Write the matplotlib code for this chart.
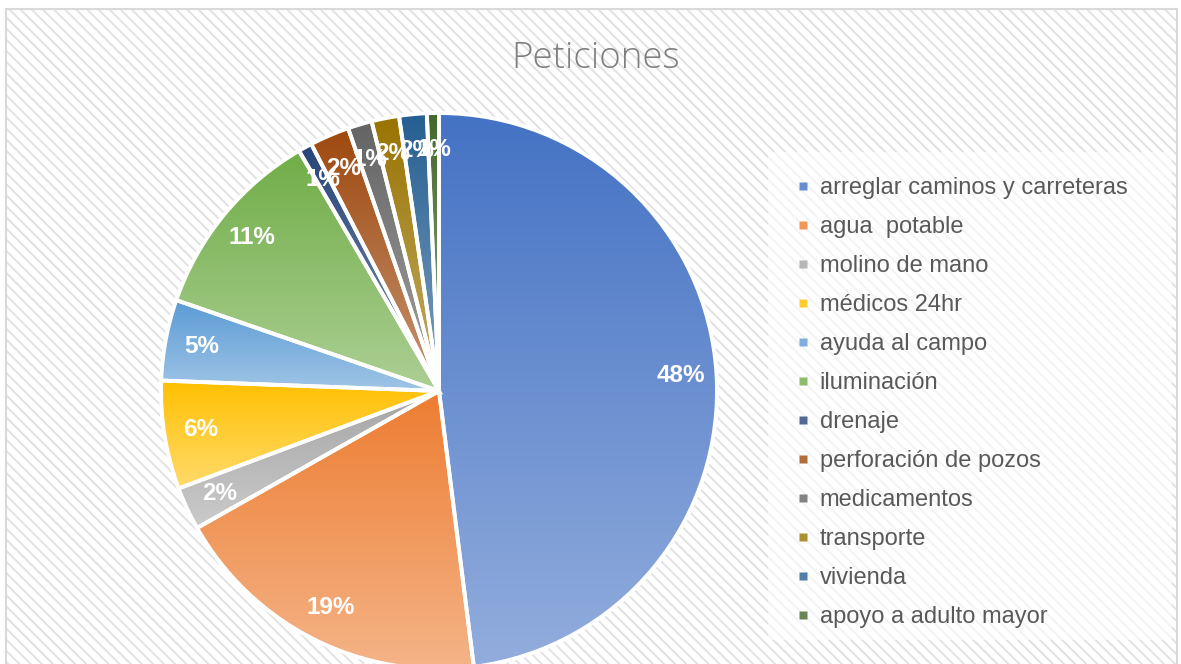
import numpy as np
import matplotlib
matplotlib.use("Agg")
import matplotlib.pyplot as plt
from matplotlib.patches import Rectangle
from matplotlib.lines import Line2D
from matplotlib.colors import to_rgb

# data (percent of requests)
categories = ["arreglar caminos y carreteras", "agua  potable", "molino de mano",
              "médicos 24hr", "ayuda al campo", "iluminación", "drenaje",
              "perforación de pozos", "medicamentos", "transporte", "vivienda",
              "apoyo a adulto mayor"]
values = [48.0, 18.8, 2.5, 6.3, 4.7, 11.3, 0.8, 2.3, 1.4, 1.6, 1.6, 0.7]
colors = ["#4472C4", "#ED7D31", "#A5A5A5", "#FFC000", "#5B9BD5", "#70AD47",
          "#264478", "#9E480E", "#636363", "#997300", "#255E91", "#43682B"]

W, H = 1181, 664
plt.rcParams["hatch.linewidth"] = 1.4
plt.rcParams["hatch.color"] = "#E2E2E2"

fig = plt.figure(figsize=(W / 100, H / 100), dpi=100)


def fx(px):
    return px / W


def fy(py):
    return 1 - py / H


def lighten(c, f):
    r, g, b = to_rgb(c)
    return (r + (1 - r) * f, g + (1 - g) * f, b + (1 - b) * f)


# hatched chart background with thin border
bg = Rectangle((fx(6), fy(672)), fx(1177) - fx(6), fy(9) - fy(672),
               transform=fig.transFigure, facecolor="white", edgecolor="#E2E2E2",
               hatch="\\\\\\", lw=0, zorder=-3)
fig.patches.append(bg)
border = Rectangle((fx(6), fy(672)), fx(1177) - fx(6), fy(9) - fy(672),
                   transform=fig.transFigure, facecolor="none", edgecolor="#D9D9D9",
                   lw=1.5, zorder=-2)
fig.patches.append(border)

# lighter panel behind legend
leg_bg = Rectangle((fx(768), fy(640)), fx(1172) - fx(768), fy(152) - fy(640),
                   transform=fig.transFigure, facecolor="white", alpha=0.6,
                   lw=0, zorder=-2)
fig.patches.append(leg_bg)

# pie axes
cx, cy, R, pad = 439, 391, 278, 1.03
ax = fig.add_axes([fx(cx - R * pad), fy(cy + R * pad), 2 * R * pad / W, 2 * R * pad / H])
ax.axis("off")

wedges, texts, autotexts = ax.pie(
    values, startangle=90, counterclock=False, radius=1,
    autopct="%.0f%%", pctdistance=0.87,
    wedgeprops=dict(edgecolor="white", linewidth=2.8),
    textprops=dict(color="white", fontsize=17.5, fontweight="bold",
                   family="Liberation Sans"))

grad = np.linspace(0, 1, 256)[:, None]
for w, c in zip(wedges, colors):
    top = np.array(to_rgb(c))
    bot = np.array(lighten(c, 0.42))
    img = top[None, None, :] * (1 - grad[:, :, None]) + bot[None, None, :] * grad[:, :, None]
    bb = w.get_path().get_extents()
    im = ax.imshow(img, extent=[bb.x0, bb.x1, bb.y0, bb.y1], origin="upper",
                   aspect="auto", interpolation="bilinear", zorder=1)
    im.set_clip_path(w)
    w.set_facecolor("none")
    w.set_zorder(2)
for t in autotexts:
    t.set_zorder(5)

ax.set_xlim(-pad, pad)
ax.set_ylim(-pad, pad)

# legend
handles = [Line2D([], [], marker="s", ls="none", markersize=6,
                  markerfacecolor=lighten(c, 0.2), markeredgecolor="none")
           for c in colors]
fig.legend(handles, categories, loc="upper left",
           bbox_to_anchor=(fx(796), fy(177)), frameon=False,
           prop=dict(family="Liberation Sans", size=17), labelcolor="#595959",
           handlelength=0.6, handletextpad=0.4, labelspacing=0.72,
           borderaxespad=0, borderpad=0)

fig.text(fx(596), fy(58), "Peticiones", ha="center", va="center",
         fontsize=26.5, color="#7F7F7F", family="Open Sans", fontweight="light")

fig.savefig("out.png", dpi=100)
